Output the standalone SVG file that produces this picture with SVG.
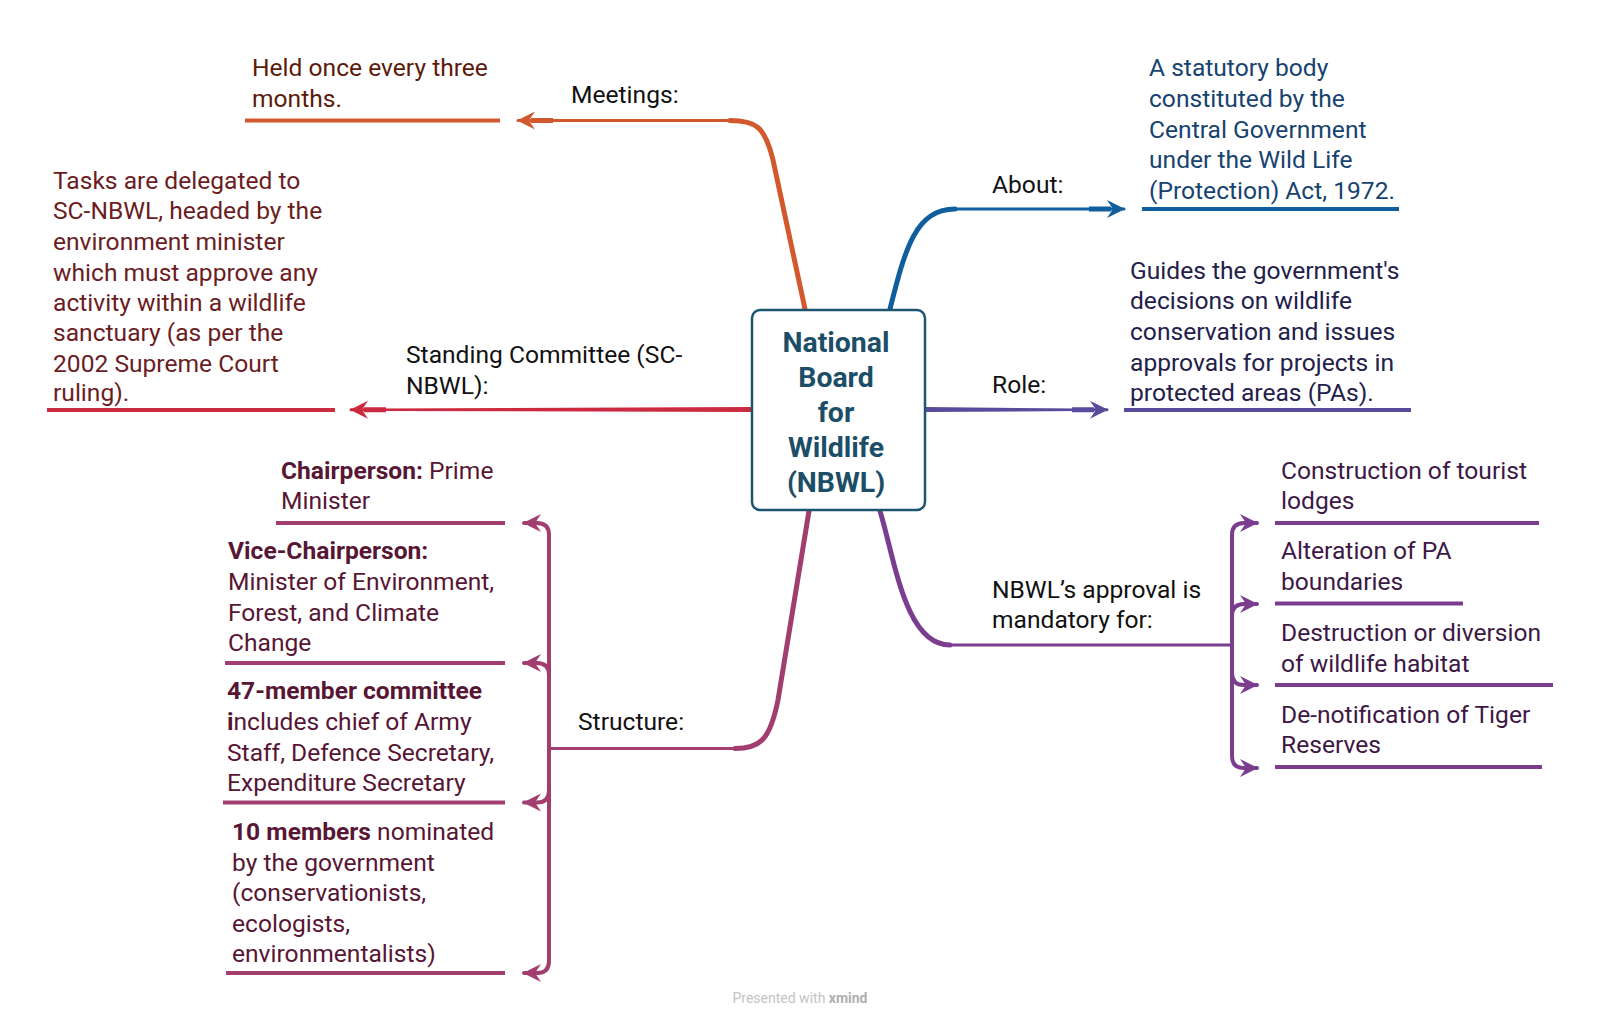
<svg xmlns="http://www.w3.org/2000/svg" width="1600" height="1022" viewBox="0 0 1600 1022">
<style>
text{font-family:Roboto,"Liberation Sans",sans-serif;font-size:24.6px}
.lbl{fill:#111}
.b{font-weight:700}
.ctr{font-size:28.4px;font-weight:700;fill:#1d4e68;text-anchor:middle}
.ul{fill:none;stroke-width:4}
.br{fill:none;stroke-linecap:round}
marker{overflow:visible}
</style>
<defs>
<path id="ah" d="M-18,6.5 H4 V11.5 H-18 z M0,0 L18,9 L0,18 L6,9 z"/>
<marker id="aO" markerUnits="userSpaceOnUse" markerWidth="18" markerHeight="18" refX="17" refY="9" orient="auto"><use href="#ah" fill="#d2592e"/></marker>
<marker id="aB" markerUnits="userSpaceOnUse" markerWidth="18" markerHeight="18" refX="17" refY="9" orient="auto"><use href="#ah" fill="#115e9e"/></marker>
<marker id="aR" markerUnits="userSpaceOnUse" markerWidth="18" markerHeight="18" refX="17" refY="9" orient="auto"><use href="#ah" fill="#5a4a9c"/></marker>
<marker id="aS" markerUnits="userSpaceOnUse" markerWidth="18" markerHeight="18" refX="17" refY="9" orient="auto"><use href="#ah" fill="#cc2a3e"/></marker>
<marker id="aM" markerUnits="userSpaceOnUse" markerWidth="18" markerHeight="18" refX="17" refY="9" orient="auto"><path d="M0,0 L18,9 L0,18 L6,9 z" fill="#a23e6f"/></marker>
<marker id="aP" markerUnits="userSpaceOnUse" markerWidth="18" markerHeight="18" refX="17" refY="9" orient="auto"><path d="M0,0 L18,9 L0,18 L6,9 z" fill="#7b3e8f"/></marker>
</defs>
<rect width="1600" height="1022" fill="#fff"/>

<g id="connectors">
<!-- Meetings -->
<path class="br" d="M805,309 L773,160 C765,126 755,120.5 730,120.5" stroke="#d2592e" stroke-width="5"/>
<path class="br" d="M732,120.5 H518" stroke="#d2592e" stroke-width="3" marker-end="url(#aO)"/>
<!-- About -->
<path class="br" d="M890,309 C905,250 915,209 955,209" stroke="#115e9e" stroke-width="5"/>
<path class="br" d="M953,209 H1124" stroke="#115e9e" stroke-width="3" marker-end="url(#aB)"/>
<!-- Role -->
<path d="M926,407 L1080,408.5 L1080,411 L926,412 z" fill="#5a4a9c"/>
<path class="br" d="M1078,409.7 H1107" stroke="#5a4a9c" stroke-width="3" marker-end="url(#aR)"/>
<!-- Standing Committee -->
<path d="M751,407 L380,408.5 L380,411 L751,412 z" fill="#cc2a3e"/>
<path class="br" d="M382,409.7 H351" stroke="#cc2a3e" stroke-width="3" marker-end="url(#aS)"/>
<!-- Structure -->
<path class="br" d="M809,511 L778,700 C770,740 760,748.5 735,748.5" stroke="#a23e6f" stroke-width="5"/>
<path class="br" d="M737,748.5 H550" stroke="#a23e6f" stroke-width="3"/>
<path class="br" d="M549,748 V535 Q549,523 537,523 H524" stroke="#a23e6f" stroke-width="4" marker-end="url(#aM)"/>
<path class="br" d="M549,675 Q549,663 537,663 H524" stroke="#a23e6f" stroke-width="4" marker-end="url(#aM)"/>
<path class="br" d="M549,790.5 Q549,802.5 537,802.5 H524" stroke="#a23e6f" stroke-width="4" marker-end="url(#aM)"/>
<path class="br" d="M549,748 V961 Q549,973 537,973 H524" stroke="#a23e6f" stroke-width="4" marker-end="url(#aM)"/>
<!-- Approval -->
<path class="br" d="M880,511 C895,560 905,645 950,645" stroke="#7b3e8f" stroke-width="5"/>
<path class="br" d="M948,645 H1232" stroke="#7b3e8f" stroke-width="3"/>
<path class="br" d="M1232,645 V535 Q1232,523 1244,523 H1257" stroke="#7b3e8f" stroke-width="4" marker-end="url(#aP)"/>
<path class="br" d="M1232,616 Q1232,604 1244,604 H1257" stroke="#7b3e8f" stroke-width="4" marker-end="url(#aP)"/>
<path class="br" d="M1232,673 Q1232,685 1244,685 H1257" stroke="#7b3e8f" stroke-width="4" marker-end="url(#aP)"/>
<path class="br" d="M1232,645 V756 Q1232,768 1244,768 H1257" stroke="#7b3e8f" stroke-width="4" marker-end="url(#aP)"/>
</g>

<g id="central">
<rect x="752" y="310" width="173" height="200" rx="8" fill="#fff" stroke="#1d5470" stroke-width="2.5"/>
<text class="ctr"><tspan x="836" y="352">National</tspan><tspan x="836" y="387">Board</tspan><tspan x="836" y="422">for</tspan><tspan x="836" y="457">Wildlife</tspan><tspan x="836" y="492">(NBWL)</tspan></text>
</g>

<g id="meetings">
<text class="lbl" x="571" y="103">Meetings:</text>
<text fill="#5c1a0b"><tspan x="252" y="76.4">Held once every three</tspan><tspan x="252" y="107">months.</tspan></text>
<line class="ul" x1="245" y1="120.5" x2="500" y2="120.5" stroke="#d2592e"/>
</g>

<g id="about">
<text class="lbl" x="992" y="193">About:</text>
<text fill="#16436f"><tspan x="1149" y="76.4">A statutory body</tspan><tspan x="1149" y="107">constituted by the</tspan><tspan x="1149" y="137.7">Central Government</tspan><tspan x="1149" y="168.3">under the Wild Life</tspan><tspan x="1149" y="199">(Protection) Act, 1972.</tspan></text>
<line class="ul" x1="1142" y1="209" x2="1399" y2="209" stroke="#115e9e"/>
</g>

<g id="role">
<text class="lbl" x="992" y="393">Role:</text>
<text fill="#23204a"><tspan x="1130" y="278.6">Guides the government's</tspan><tspan x="1130" y="309.2">decisions on wildlife</tspan><tspan x="1130" y="339.8">conservation and issues</tspan><tspan x="1130" y="370.5">approvals for projects in</tspan><tspan x="1130" y="401">protected areas (PAs).</tspan></text>
<line class="ul" x1="1124" y1="410" x2="1411" y2="410" stroke="#5a4a9c"/>
</g>

<g id="standing">
<text class="lbl"><tspan x="406" y="363.3">Standing Committee (SC-</tspan><tspan x="406" y="394">NBWL):</tspan></text>
<text fill="#6b1d1f"><tspan x="53" y="188.7">Tasks are delegated to</tspan><tspan x="53" y="219.3">SC-NBWL, headed by the</tspan><tspan x="53" y="250">environment minister</tspan><tspan x="53" y="280.6">which must approve any</tspan><tspan x="53" y="311.2">activity within a wildlife</tspan><tspan x="53" y="340.8">sanctuary (as per the</tspan><tspan x="53" y="371.5">2002 Supreme Court</tspan><tspan x="53" y="401">ruling).</tspan></text>
<line class="ul" x1="47" y1="410" x2="335" y2="410" stroke="#cc2a3e"/>
</g>

<g id="structure">
<text class="lbl" x="578" y="730">Structure:</text>
<g fill="#571634">
<text><tspan x="281" y="478.7"><tspan class="b">Chairperson:</tspan> Prime</tspan><tspan x="281" y="509.3">Minister</tspan></text>
<text><tspan x="228" y="559.3" class="b">Vice-Chairperson:</tspan><tspan x="228" y="590">Minister of Environment,</tspan><tspan x="228" y="620.6">Forest, and Climate</tspan><tspan x="228" y="651.2">Change</tspan></text>
<text><tspan x="227" y="699.2" class="b">47-member committee</tspan><tspan x="227" y="729.8"><tspan class="b">i</tspan>ncludes chief of Army</tspan><tspan x="227" y="760.5">Staff, Defence Secretary,</tspan><tspan x="227" y="791">Expenditure Secretary</tspan></text>
<text><tspan x="232" y="840"><tspan class="b">10 members</tspan> nominated</tspan><tspan x="232" y="870.7">by the government</tspan><tspan x="232" y="901.4">(conservationists,</tspan><tspan x="232" y="932">ecologists,</tspan><tspan x="232" y="961.6">environmentalists)</tspan></text>
</g>
<g stroke="#a23e6f">
<line class="ul" x1="276" y1="523" x2="505" y2="523"/>
<line class="ul" x1="225" y1="663" x2="505" y2="663"/>
<line class="ul" x1="223" y1="802.5" x2="505" y2="802.5"/>
<line class="ul" x1="226" y1="973" x2="505" y2="973"/>
</g>
</g>

<g id="approval">
<text class="lbl"><tspan x="992" y="598">NBWL’s approval is</tspan><tspan x="992" y="627.7">mandatory for:</tspan></text>
<g fill="#3d1845">
<text><tspan x="1281" y="478.7">Construction of tourist</tspan><tspan x="1281" y="509.3">lodges</tspan></text>
<text><tspan x="1281" y="559.3">Alteration of PA</tspan><tspan x="1281" y="590">boundaries</tspan></text>
<text><tspan x="1281" y="641">Destruction or diversion</tspan><tspan x="1281" y="671.7">of wildlife habitat</tspan></text>
<text><tspan x="1281" y="722.7">De-notification of Tiger</tspan><tspan x="1281" y="753.3">Reserves</tspan></text>
</g>
<g stroke="#7b3e8f">
<line class="ul" x1="1275" y1="523" x2="1539" y2="523"/>
<line class="ul" x1="1275" y1="603.5" x2="1463" y2="603.5"/>
<line class="ul" x1="1275" y1="685" x2="1553" y2="685"/>
<line class="ul" x1="1275" y1="767" x2="1542" y2="767"/>
</g>
</g>

<text x="800" y="1003" text-anchor="middle" style="font-size:14px" fill="#c4c4c4">Presented with <tspan font-weight="700" fill="#b0b0b0">xmind</tspan></text>
</svg>
